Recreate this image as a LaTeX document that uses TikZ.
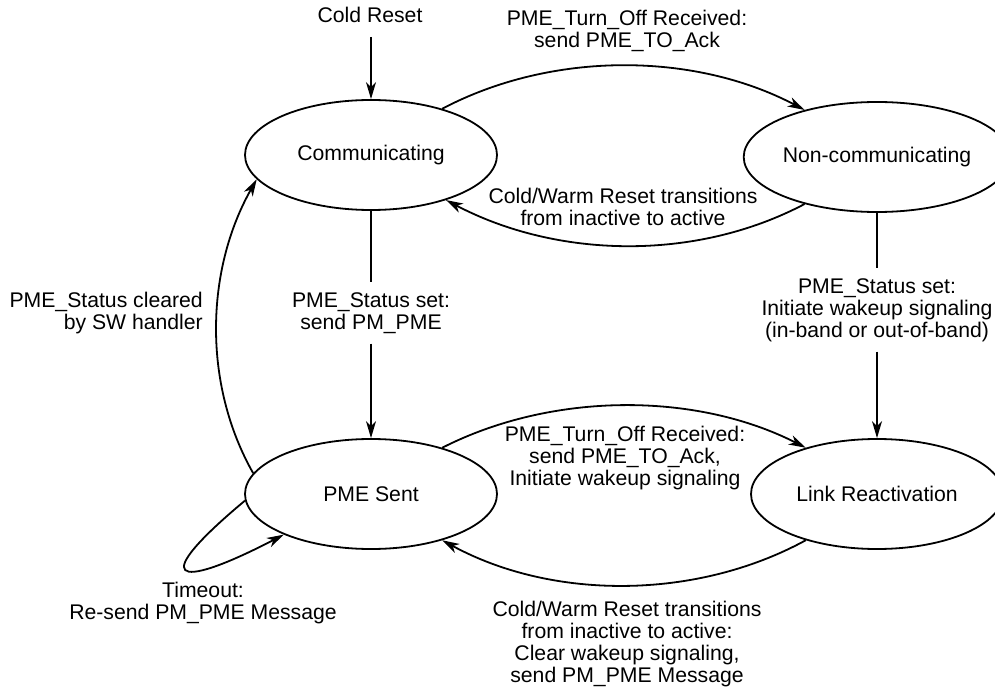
\documentclass[tikz,border=0pt]{standalone}
\usepackage{fontspec}
\setmainfont{Liberation Sans}
\usetikzlibrary{shapes.geometric,arrows.meta}
\begin{document}
\begin{tikzpicture}[x=1pt,y=1pt,
  txt/.style={font=\fontsize{21.2}{21.8}\selectfont},
  state/.style={ellipse,draw,line width=1.8pt,minimum width=252pt,minimum height=110pt,inner sep=0pt,txt},
  lbl/.style={align=center,inner sep=0pt,txt},
  arr/.style={line width=1.8pt,-{Stealth[length=17pt,width=10pt,inset=5pt]}},
  ln/.style={line width=1.8pt}]
\useasboundingbox (0,0) rectangle (995,689);
% states
\node[state] (C) at (371,534) {Communicating};
\node[state] (N) at (877,532) {Non-communicating};
\node[state] (P) at (371,195) {PME Sent};
\node[state] (L) at (877,195) {Link Reactivation};
% cold reset
\node[lbl] (cr) at (370,674) {Cold Reset};
\coordinate (crs) at (371,652);
\draw[arr] (crs) -- (C.north);
% C -> N
\draw[arr] (C.33) .. controls +(110,58) and +(-110,58) .. (N.147);
\node[lbl] (t1) at (627,658) {PME\_Turn\_Off Received:\\send PME\_TO\_Ack};
% N -> C
\draw[arr] (N.213) .. controls +(-110,-58) and +(110,-58) .. (C.329);
\node[lbl] (t2) at (623,482) {Cold/Warm Reset transitions\\from inactive to active};
% C -> P
\node[lbl,inner sep=10pt] (s1) at (371,376) {PME\_Status set:\\send PM\_PME};
\draw[ln] (C.south) -- (C.south |- s1.north);
\draw[arr] (P.north |- s1.south) -- (P.north);
% N -> L
\node[lbl,inner sep=10pt] (s2) at (877,379) {PME\_Status set:\\Initiate wakeup signaling\\(in-band or out-of-band)};
\draw[ln] (N.south) -- (N.south |- s2.north);
\draw[arr] (L.north |- s2.south) -- (L.north);
% P -> C
\draw[arr] (P.170) .. controls +(-51,90) and +(-51,-90) .. (C.192);
\node[lbl,align=right,anchor=east] (s3) at (203,376) {PME\_Status cleared\\by SW handler};
% P -> L
\draw[arr] (P.33) .. controls +(110,56) and +(-110,56) .. (L.147);
\node[lbl] (t3) at (625,231) {PME\_Turn\_Off Received:\\send PME\_TO\_Ack,\\Initiate wakeup signaling};
% L -> P
\draw[arr] (L.213) .. controls +(-110,-60) and +(110,-60) .. (P.327);
\node[lbl] (t4) at (627,45) {Cold/Warm Reset transitions\\from inactive to active:\\Clear wakeup signaling,\\send PM\_PME Message};
% self loop
\draw[arr] (P.183) .. controls +(-96,-80) and +(-112,-58) .. (P.205);
\node[lbl] (t5) at (203,86) {Timeout:\\Re-send PM\_PME Message};
\end{tikzpicture}
\end{document}
